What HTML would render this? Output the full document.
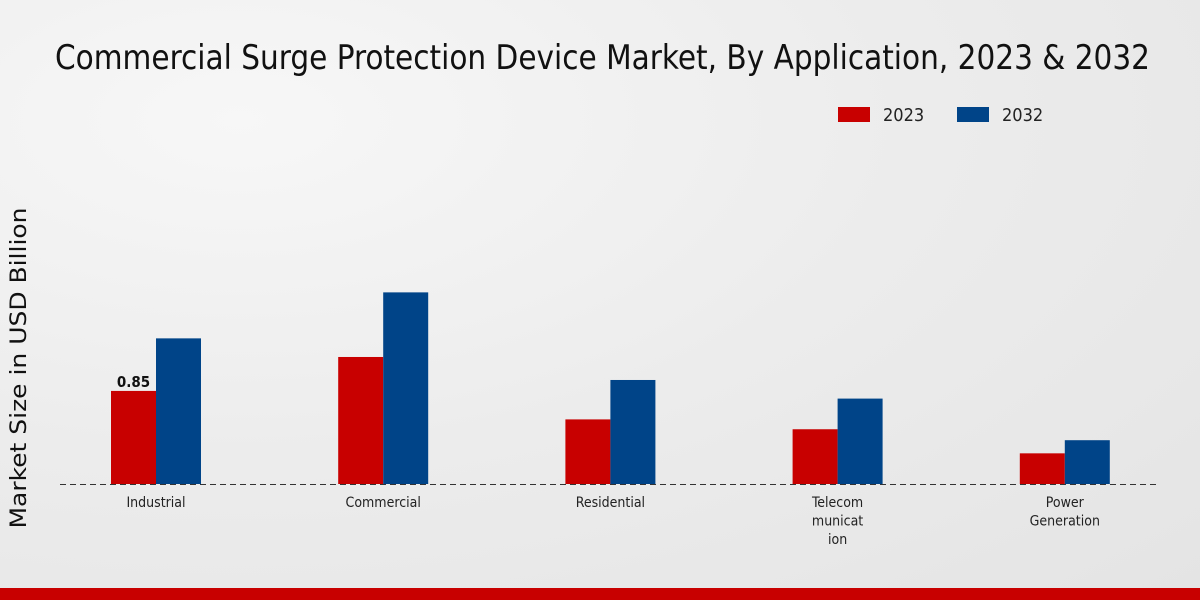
<!DOCTYPE html>
<html><head><meta charset="utf-8"><style>
html,body{margin:0;padding:0;width:1200px;height:600px;overflow:hidden}
body{background:radial-gradient(ellipse at 20% 20%,#f7f7f7 0%,#ececec 50%,#e4e4e4 100%);font-family:"DejaVu Sans Condensed","DejaVu Sans","Liberation Sans",sans-serif}
</style></head><body>
<svg id="chart" width="1200" height="600" xmlns="http://www.w3.org/2000/svg" style="position:absolute;left:0;top:0">
<text x="55" y="69" font-size="34" fill="#111" textLength="1095" lengthAdjust="spacingAndGlyphs">Commercial Surge Protection Device Market, By Application, 2023 &amp; 2032</text>
<g>
<rect x="838" y="107" width="32" height="15" fill="#c80000"/>
<text x="883" y="121" font-size="18" fill="#222">2023</text>
<rect x="957" y="107" width="32" height="15" fill="#004488"/>
<text x="1002" y="121" font-size="18" fill="#222">2032</text>
</g>
<text transform="translate(26,368) rotate(-90)" text-anchor="middle" font-size="22" fill="#111" font-family="DejaVu Sans, sans-serif" textLength="321" lengthAdjust="spacingAndGlyphs">Market Size in USD Billion</text>
<g id="bars"></g>
<line x1="60" y1="484.5" x2="1160" y2="484.5" stroke="#333" stroke-dasharray="6,4" stroke-width="1"/>
<g id="labels"></g>
<rect x="0" y="588" width="1200" height="12" fill="#c80000"/>
</svg>
<script>
const categories=[["Industrial"],["Commercial"],["Residential"],["Telecom","municat","ion"],["Power","Generation"]];
const values2023=[0.85,1.16,0.59,0.5,0.28];
const values2032=[1.33,1.75,0.95,0.78,0.4];
const shownLabels=["0.85",null,null,null,null];
const baseY=484,scale=109.5,x0=156,step=227.2,bw=45;
const ns="http://www.w3.org/2000/svg";
const yS=v=>baseY-v*scale;
const bars=document.getElementById('bars'),labels=document.getElementById('labels');
categories.forEach((c,i)=>{
  const cx=x0+i*step;
  [[values2023,"#c80000",cx-bw,"2023"],[values2032,"#004488",cx,"2032"]].forEach(([arr,col,x,s])=>{
    const r=document.createElementNS(ns,'rect');
    
    
    r.setAttribute('x',x);r.setAttribute('y',yS(arr[i]));r.setAttribute('width',bw);r.setAttribute('height',arr[i]*scale);r.setAttribute('fill',col);
    bars.appendChild(r);
  });
  if(shownLabels[i]){
    const t=document.createElementNS(ns,'text');
    
    
    t.setAttribute('x',cx-bw/2);t.setAttribute('y',yS(values2023[i])-4);t.setAttribute('text-anchor','middle');t.setAttribute('font-size','15');t.setAttribute('font-weight','bold');t.setAttribute('fill','#111');
    t.textContent=shownLabels[i];labels.appendChild(t);
  }
  c.forEach((line,j)=>{
    const t=document.createElementNS(ns,'text');
    
    
    t.setAttribute('x',cx);t.setAttribute('y',507+j*18.5);t.setAttribute('text-anchor','middle');t.setAttribute('font-size','14');t.setAttribute('fill','#222');
    t.textContent=line;labels.appendChild(t);
  });
});
</script>
</body></html>
